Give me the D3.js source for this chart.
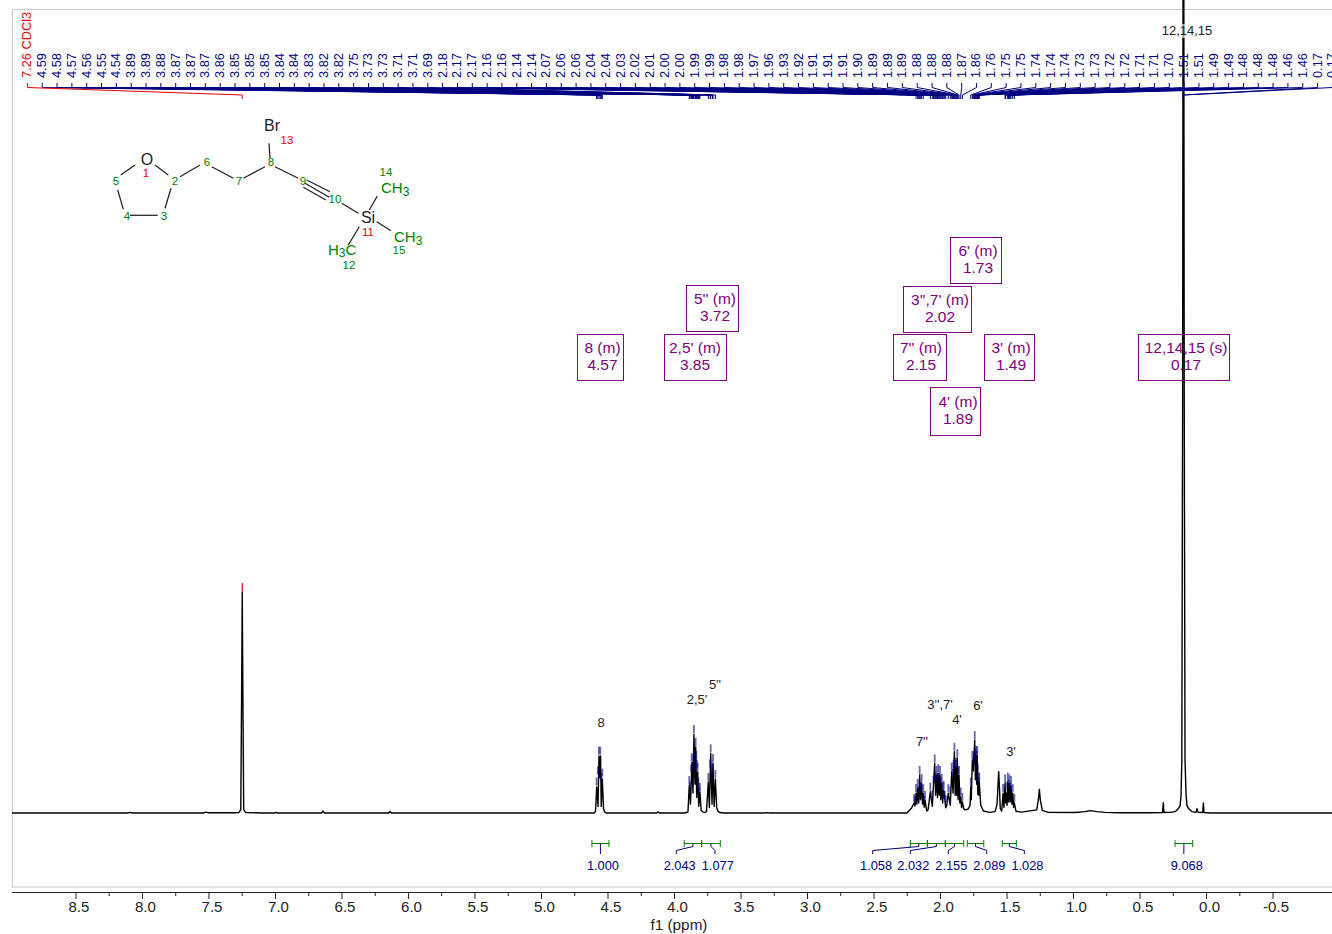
<!DOCTYPE html>
<html><head><meta charset="utf-8">
<script src="https://d3js.org/d3.v7.min.js"></script>
<style>html,body{margin:0;padding:0;background:#fff}svg{display:block}text{font-family:"Liberation Sans",Arial,sans-serif}</style>
</head><body><svg id="c" width="1332" height="934"></svg>
<script>
// ---------- data ----------
const segLeft = [[8.977,0],[8.11,0],[8.09,.3],[8.07,0],[7.54,0],[7.52,.4],[7.50,.1],[7.3,.1],[7.272,.2],[7.257,1.5],[7.250,60],[7.246,100],[7.242,60],[7.235,1.5],[7.220,.2],[7.1,0],[7.0,0],[6.99,.3],[6.98,0],[6.65,0],[6.639,.9],[6.63,0],[6.145,0],[6.135,.7],[6.125,0],[4.7,0]];
const seg8 = [[4.598,0],[4.590,.8],[4.581,11.8],[4.571,3],[4.564,25.8],[4.558,16],[4.552,25.8],[4.547,3],[4.539,15.4],[4.530,2],[4.522,.5],[4.511,0]];
const segGap1 = [[4.13,0],[4.12,.5],[4.11,0],[3.92,0]];
const seg25 = [[3.895,.5],[3.885,12.7],[3.876,4],[3.865,23],[3.857,9],[3.850,35.7],[3.842,13],[3.837,29.9],[3.829,7],[3.822,18.6],[3.814,3],[3.805,9.5],[3.796,1.2],[3.782,.4],[3.767,.2],[3.756,.7]];
const seg5 = [[3.742,14],[3.734,2.5],[3.724,27],[3.714,4],[3.707,22.6],[3.698,3],[3.689,15.4],[3.679,2.5],[3.669,.7],[3.654,.2],[3.63,0],[3.32,0],[3.3,.15],[3.28,0],[2.25,0]];
const seg7 = [[2.213,2.3],[2.203,3.6],[2.195,4.5],[2.188,3.2],[2.180,9],[2.174,4],[2.168,11.3],[2.160,4.5],[2.153,17.2],[2.147,6],[2.138,13.6],[2.132,4],[2.126,9],[2.119,2.6],[2.113,5.9],[2.100,.9],[2.090,1.4]];
const seg37 = [[2.073,9.6],[2.058,3],[2.049,12.7],[2.040,22.5],[2.033,8],[2.025,17.2],[2.019,7],[2.013,18],[2.006,8],[2.000,17.2],[1.994,6],[1.987,13.6],[1.980,4.5],[1.972,10.4],[1.957,2.4],[1.949,3.5]];
const seg4 = [[1.938,9],[1.923,3.5],[1.912,18.7],[1.902,9],[1.892,27.7],[1.886,8],[1.880,21],[1.874,8],[1.870,24.8],[1.864,6],[1.857,17.2],[1.851,4.5],[1.844,7.4],[1.838,2.5],[1.832,5],[1.822,2],[1.812,1.4],[1.787,1.8],[1.774,3.6]];
const seg6 = [[1.769,11.9],[1.765,6],[1.757,24],[1.750,19],[1.739,33],[1.734,15],[1.729,26.2],[1.724,13],[1.720,26.2],[1.716,8.5],[1.711,14.2],[1.708,8],[1.705,14.2],[1.694,3.5],[1.674,.9],[1.624,.3],[1.586,.6],[1.571,4],[1.564,12.7],[1.559,18.7],[1.554,12.7],[1.547,2],[1.536,.8]];
const seg3 = [[1.526,9],[1.519,2.5],[1.511,13.4],[1.506,4.5],[1.502,9],[1.496,3.5],[1.491,14.2],[1.485,5],[1.479,13.4],[1.472,5],[1.466,12.7],[1.459,4],[1.453,9],[1.447,2.5],[1.441,4.5],[1.429,.8],[1.386,.4]];
const segRight = [[1.273,1.4],[1.261,5.9],[1.253,10.7],[1.246,5.9],[1.231,1.2],[1.186,.3],[.985,.2],[.91,.6],[.872,1.1],[.82,.6],[.76,.3],[.647,.1],[.421,.1],[.327,.2],[.321,4.7],[.317,.2],[.271,.3],[.233,.6],[.211,1.8],[.195,3.2],[.188,8],[.182,24],[.176,188],[.173,380],[.170,450],[.167,380],[.164,188],[.158,24],[.150,8],[.143,3.2],[.128,1.8],[.105,.6],[.075,.3],[.068,2],[.06,.3],[.025,.2],[.02,4.5],[.015,.2],[-.03,0],[-.947,0]];
const spectrum = [...segLeft,...seg8,...segGap1,...seg25,...seg5,...seg7,...seg37,...seg4,...seg6,...seg3,...segRight];

const solventLabel = "7.26 CDCl3";
const solventPpm = 7.246, solventHeight = 100;
const peakLabels = ["4.59","4.58","4.57","4.56","4.55","4.54","3.89","3.89","3.88","3.87","3.87","3.87","3.86","3.85","3.85","3.85","3.84","3.84","3.83","3.82","3.82","3.75","3.73","3.73","3.71","3.71","3.69","2.18","2.17","2.17","2.16","2.16","2.14","2.14","2.07","2.06","2.06","2.04","2.04","2.03","2.02","2.01","2.00","2.00","1.99","1.99","1.98","1.98","1.97","1.96","1.93","1.92","1.91","1.91","1.91","1.90","1.89","1.89","1.89","1.88","1.88","1.88","1.87","1.86","1.76","1.75","1.75","1.74","1.74","1.74","1.73","1.73","1.72","1.72","1.71","1.71","1.70","1.51","1.51","1.49","1.49","1.48","1.48","1.48","1.46","1.46","0.17","0.17"];
const peakPpm = [4.582,4.573,4.564,4.554,4.546,4.539,3.885,3.880,3.872,3.867,3.861,3.855,3.850,3.842,3.837,3.832,3.827,3.822,3.816,3.810,3.805,3.742,3.728,3.724,3.711,3.707,3.689,2.180,2.168,2.160,2.153,2.145,2.138,2.126,2.073,2.058,2.049,2.040,2.033,2.025,2.019,2.013,2.006,2.000,1.994,1.987,1.980,1.972,1.965,1.957,1.938,1.923,1.912,1.905,1.898,1.892,1.886,1.880,1.874,1.870,1.864,1.857,1.844,1.832,1.769,1.757,1.750,1.745,1.739,1.734,1.729,1.724,1.720,1.716,1.711,1.708,1.705,1.511,1.506,1.491,1.485,1.479,1.472,1.466,1.453,1.441,.174,.170];
const peakHeight = [12,17,26,26,14,16,12.7,10,18,23,18,22,35.7,25,29.9,24,20,18.6,12,8,9.5,14,20,27,18,22.6,15.4,9,11.3,8,17.2,10,13.6,9,9.6,6,12.7,22.5,14,17.2,14,18,14,17.2,12,13.6,10,10.4,6,4,9,8,18.7,16,20,27.7,20,21,20,24.8,17,17.2,7.4,5,11.9,24,21,24,33,25,26.2,24,26.2,18,14.2,12,14.2,13.4,10,14.2,11,13.4,10,12.7,9,4.5,450,450];
const extraMarkPpm = [2.195,2.188,2.119,2.113,1.526];
const extraMarkHeight = [4.5,3.5,3.5,5.9,9];

const integralValues = ["1.000","2.043","1.077","1.058","2.032","2.155","2.089","1.028","9.068"];
const integralFrom = [4.617,3.923,3.792,2.223,2.095,1.960,1.795,1.532,.233];
const integralTo   = [4.489,3.792,3.652,2.095,1.960,1.822,1.671,1.426,.100];
const integralTail = [4.553,3.983,3.692,2.506,2.223,1.938,1.649,1.366,.167];
const integralText = [4.534,3.957,3.671,2.481,2.201,1.915,1.629,1.343,.145];

const tickValues = d3.range(-2,35).map(i=>i*0.25);

// annotation tables (layout separate from data)
const multipletNames = ["6' (m)","3'',7' (m)","5'' (m)","8 (m)","2,5' (m)","7'' (m)","3' (m)","12,14,15 (s)","4' (m)"];
const multipletShift = ["1.73","2.02","3.72","4.57","3.85","2.15","1.49","0.17","1.89"];
const boxLayout = [[950,237,51,46],[903,286,68,46],[686,285,52,46],[577,334,46,46],[664,334,62,46],[893,334,53,46],[984,334,50,46],[1138,334,91,46],[930,387,50,48]];
const boxTextX = [978,940,715,602.5,695,921,1011,1186,958];
const assignNames = ["8","2,5'","5''","7''","3'',7'","4'","6'","3'","12,14,15"];
const assignPos = [[601,723],[697,700],[715,685],[922,742],[940,705],[957,720],[978,706],[1011,752],[1187,31]];

// ---------- scales ----------
const svg = d3.select("#c");
const x = d3.scaleLinear().domain([8.977,-0.947]).range([12,1332]);
const y = d3.scaleLinear().domain([0,100]).range([813,592]);
const FRAME="#c9c9c9", NAVY="#000080", PURPLE="#800080", GREEN="#008000";

// frame
svg.append("path").attr("d","M12.5,887 V9.5 H1332 M12,887 H1332").attr("fill","none").attr("stroke",FRAME).attr("stroke-width",1);

// axis
const isMajor = d=>Math.abs(d*2-Math.round(d*2))<1e-9;
const axis = d3.axisBottom(x).tickValues(tickValues).tickSizeOuter(0)
  .tickFormat(d=> isMajor(d) ? d3.format(".1f")(d).replace("\u2212","-") : "");
const gA = svg.append("g").attr("transform","translate(0,892)").call(axis);
gA.select(".domain").attr("stroke","#222").attr("d","M12,0.5H1332");
gA.selectAll(".tick line").attr("stroke","#222").attr("y2",d=>isMajor(d)?7:4);
gA.selectAll(".tick text").attr("font-size",15).attr("fill","#222").attr("dx",3).attr("y",9).attr("font-family","Liberation Sans");
svg.append("text").attr("x",679).attr("y",930).attr("text-anchor","middle").attr("font-size",15.3).attr("fill","#222").text("f1 (ppm)");

// spectrum
const line = d3.line().x(d=>x(d[0])).y(d=>y(d[1]));
svg.append("path").datum(spectrum).attr("d",line).attr("fill","none").attr("stroke","#000").attr("stroke-width",1.4).attr("stroke-linejoin","round");

// peak marks
const markLen = 8/2.21;
const marks = peakPpm.map((p,i)=>[p,peakHeight[i]]).concat(extraMarkPpm.map((p,i)=>[p,extraMarkHeight[i]]));
svg.append("g").selectAll("line").data(marks).join("line")
  .attr("x1",d=>x(d[0])).attr("x2",d=>x(d[0]))
  .attr("y1",d=>y(d[1])-1).attr("y2",d=>y(d[1]+markLen)-1)
  .attr("stroke",NAVY).attr("stroke-width",1.8).attr("stroke-opacity",.6);
svg.append("line").attr("x1",x(solventPpm)).attr("x2",x(solventPpm))
  .attr("y1",y(solventHeight)-1).attr("y2",y(solventHeight+markLen)-1).attr("stroke","#e00000").attr("stroke-width",1.2);

// peak-pick label row with fan connectors
const labelX = d3.scalePoint().domain(d3.range(-1,peakLabels.length)).range([26.9,1331.9]);
const fan = d3.line();
svg.append("g").selectAll("path").data(peakPpm).join("path")
  .attr("d",(p,i)=>fan([[labelX(i)+.5,83],[labelX(i)+.5,87.5],[x(p),95],[x(p),99]]))
  .attr("fill","none").attr("stroke",NAVY).attr("stroke-width",1);
svg.append("g").selectAll("text").data(peakLabels).join("text")
  .attr("transform",(d,i)=>`translate(${labelX(i)+4.5},78) rotate(-90)`)
  .attr("font-size",12.8).attr("fill",NAVY).text(d=>d);
svg.append("path").attr("d",fan([[labelX(-1)+.5,83],[labelX(-1)+.5,87.5],[x(solventPpm),95],[x(solventPpm),99]]))
  .attr("fill","none").attr("stroke","#f00000").attr("stroke-width",1);
svg.append("text").attr("transform",`translate(${labelX(-1)+4.5},78) rotate(-90)`).attr("font-size",12.8).attr("fill","#f00000").text(solventLabel);

// integrals
const gI = svg.append("g");
integralValues.forEach((v,i)=>{
  const a=x(integralFrom[i]), b=x(integralTo[i]), m=(a+b)/2, t=x(integralTail[i]), lx=x(integralText[i]);
  gI.append("path").attr("d",`M${a},840V847M${a},843.5H${b}M${b},840V847`).attr("fill","none").attr("stroke",GREEN).attr("stroke-width",1);
  gI.append("path").attr("d",fan([[m,843.5],[m,846.5],[t,850.5],[t,854]])).attr("fill","none").attr("stroke",NAVY).attr("stroke-width",1);
  gI.append("text").attr("x",lx).attr("y",870).attr("text-anchor","middle").attr("font-size",12.8).attr("fill",NAVY).text(v);
});

// assignment boxes
multipletNames.forEach((n,i)=>{
  const [bx,by,bw,bh]=boxLayout[i], cx=boxTextX[i], mid=by+bh/2;
  svg.append("rect").attr("x",bx+.5).attr("y",by+.5).attr("width",bw).attr("height",bh).attr("fill","none").attr("stroke",PURPLE).attr("stroke-width",1);
  svg.append("text").attr("x",cx).attr("y",mid-4).attr("text-anchor","middle").attr("font-size",15.5).attr("fill",PURPLE).text(n);
  svg.append("text").attr("x",cx).attr("y",mid+13).attr("text-anchor","middle").attr("font-size",15.5).attr("fill",PURPLE).text(multipletShift[i]);
});

// assignment labels over the peaks
svg.append("rect").attr("x",1161).attr("y",24).attr("width",52).attr("height",14).attr("fill","#fff").attr("fill-opacity",.6);
svg.append("g").selectAll("text").data(assignNames).join("text")
  .attr("x",(d,i)=>assignPos[i][0]).attr("y",(d,i)=>assignPos[i][1]+4)
  .attr("text-anchor","middle").attr("font-size",13).attr("fill","#222").text(d=>d);

// structure drawing
const bonds = [[155,165,168.3,175],[135,165,120.7,175],[117.7,190,123.3,209.3],[130,215.3,157.7,215.3],[165,208.3,171,188.3],[180,176.7,200,165],[211.7,166.7,233.3,178.3],[243.3,178.3,265,166.7],[270,158.3,269,143.3],[275,166.7,298.3,178.3],[305,183.3,329.3,197.3],[306.7,180,330,191.7],[303.3,187.3,326,200],[341.7,203.3,358.3,213.3],[369.3,210,377.3,196],[376.7,221.7,391,230.7],[359.3,226.7,348.3,245]];
const gM = svg.append("g");
gM.selectAll("line").data(bonds).join("line").attr("x1",d=>d[0]).attr("y1",d=>d[1]).attr("x2",d=>d[2]).attr("y2",d=>d[3]).attr("stroke","#222").attr("stroke-width",1.25);
const atomNums = [["1",146,173,"#f00000"],["2",175,181,GREEN],["3",164,216,GREEN],["4",127,216,GREEN],["5",116,181,GREEN],["6",207,162,GREEN],["7",239,181,GREEN],["8",271,162,GREEN],["9",303,181,GREEN],["10",335,199,GREEN],["11",368,232,"#f00000"],["12",349,265,GREEN],["13",287,140,"#f00000"],["14",386,172,GREEN],["15",399,250,GREEN]];
gM.append("g").selectAll("text").data(atomNums).join("text").attr("x",d=>d[1]).attr("y",d=>d[2]+4).attr("text-anchor","middle").attr("font-size",11.5).attr("fill",d=>d[3]).text(d=>d[0]);
[["O",147,159],["Br",272,125],["Si",368,217]].forEach(a=>{
  gM.append("text").attr("x",a[1]).attr("y",a[2]+5.5).attr("text-anchor","middle").attr("font-size",16).attr("fill","#222").text(a[0]);
});
function methyl(px,py,parts){
  const t=gM.append("text").attr("x",px).attr("y",py).attr("font-size",15).attr("fill",GREEN);
  parts.forEach(p=>{ t.append("tspan").attr("dy",p[1]).attr("font-size",p[2]).text(p[0]); });
}
methyl(381,193,[["CH",0,15],["3",3,12]]);
methyl(394,242,[["CH",0,15],["3",3,12]]);
methyl(328,255,[["H",0,15],["3",2,12],["C",-2,15]]);
</script></body></html>
